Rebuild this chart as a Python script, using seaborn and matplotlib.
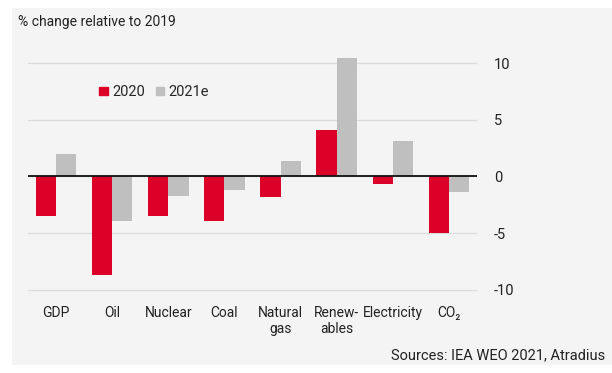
import pandas as pd
import matplotlib.pyplot as plt
import matplotlib.patches as mpatches
import seaborn as sns

categories = ["GDP", "Oil", "Nuclear", "Coal", "Natural\ngas", "Renew-\nables", "Electricity", "CO₂"]
values_2020 = [-3.5, -8.7, -3.45, -3.9, -1.8, 4.1, -0.65, -4.95]
values_2021 = [2.0, -3.9, -1.7, -1.2, 1.35, 10.4, 3.1, -1.4]
series = ["2020", "2021e"]
colors = ["#dc0028", "#bfbfbf"]
yticks = [-10, -5, 0, 5, 10]

df = pd.DataFrame({
    "category": categories * 2,
    "value": values_2020 + values_2021,
    "series": [series[0]] * len(categories) + [series[1]] * len(categories),
})

sns.set_style("white")
plt.rcParams["font.family"] = ["Roboto", "DejaVu Sans"]

bg = "#f4f4f4"
txt = "#222222"
fig = plt.figure(figsize=(6.12, 3.73), dpi=100)
fig.patch.set_facecolor("white")
fig.patches.append(mpatches.Rectangle((12 / 612, 8 / 373), 600 / 612, 357 / 373,
                                      transform=fig.transFigure, facecolor=bg,
                                      edgecolor="none", zorder=-10))
ax = fig.add_axes([28 / 612, (373 - 302) / 373, 449 / 612, (302 - 52) / 373])
ax.set_facecolor(bg)

sns.barplot(data=df, x="category", y="value", hue="series", palette=colors,
            width=0.72, saturation=1, linewidth=0, ax=ax, legend=False)

ax.set_xlim(-0.5, 7.5)
ax.set_ylim(-11.06, 10.97)
ax.set_yticks(yticks)
ax.set_yticklabels([str(t) if t >= 0 else "-" + str(-t) for t in yticks])
ax.yaxis.tick_right()
ax.tick_params(axis="y", length=0, pad=12, labelsize=10.5, labelcolor=txt)
ax.tick_params(axis="x", length=0, pad=3, labelsize=10, labelcolor=txt)
ax.grid(axis="y", color="#dcdcdc", linewidth=0.9)
ax.set_axisbelow(True)
ax.axhline(0, color="#111111", linewidth=1.3)
for s in ax.spines.values():
    s.set_visible(False)
ax.set_xlabel("")
ax.set_ylabel("")

handles = [mpatches.Patch(color=c, label=s) for c, s in zip(colors, series)]
ax.legend(handles=handles, loc="upper left", bbox_to_anchor=(0.13, 0.92), ncol=2,
          frameon=False, fontsize=10.5, handlelength=0.55, handleheight=0.55,
          handletextpad=0.3, columnspacing=0.8)

fig.text(18 / 612, 1 - 22 / 373, "% change relative to 2019", fontsize=10,
         va="center", ha="left", color=txt)
fig.text(605 / 612, 1 - 355 / 373, "Sources: IEA WEO 2021, Atradius", fontsize=10.5,
         va="center", ha="right", color=txt)

fig.savefig("out.png", dpi=100, facecolor=fig.get_facecolor())
